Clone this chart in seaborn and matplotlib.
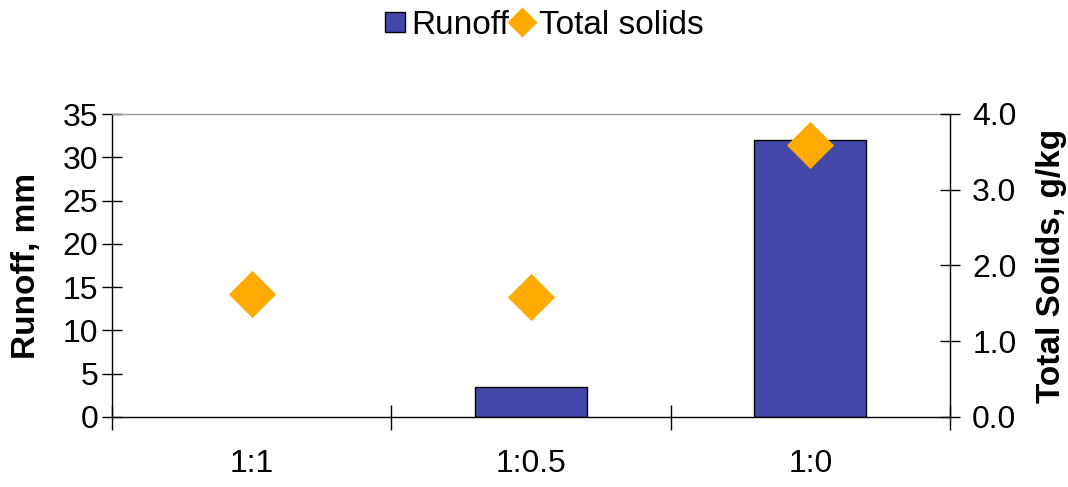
import matplotlib
matplotlib.use("Agg")
import matplotlib.pyplot as plt
import seaborn as sns
import pandas as pd
from matplotlib.lines import Line2D
from matplotlib.ticker import MultipleLocator, FixedLocator

categories = ["1:1", "1:0.5", "1:0"]
runoff_mm = [0.0, 3.5, 32.0]
total_solids = [1.63, 1.59, 3.59]

sns.set_theme(style="white")
plt.rcParams["font.family"] = ["Liberation Sans", "DejaVu Sans"]
plt.rcParams["text.color"] = "black"
plt.rcParams["axes.labelcolor"] = "black"
plt.rcParams["xtick.color"] = "black"
plt.rcParams["ytick.color"] = "black"

df = pd.DataFrame({"cat": categories, "runoff": runoff_mm, "ts": total_solids})

fig = plt.figure(figsize=(10.68, 4.87), dpi=100)
ax = fig.add_axes([112/1068, 1-417/487, (950-112)/1068, (417-114)/487])

bar_color = "#4348A8"
sns.barplot(data=df, x="cat", y="runoff", order=categories, color=bar_color,
            width=0.4, edgecolor="black", linewidth=1, saturation=1, ax=ax)
for p in ax.patches:
    if p.get_height() == 0:
        p.set_linewidth(0)
ax.set_xlim(-0.5, 2.5)
ax.set_ylim(0, 35)
ax.yaxis.set_major_locator(MultipleLocator(5))

ax2 = ax.twinx()
sns.stripplot(data=df, x="cat", y="ts", order=categories, jitter=False,
              marker="D", size=24, color="#FFAA00", linewidth=0, ax=ax2, zorder=5)
ax2.set_xlim(-0.5, 2.5)
ax2.set_ylim(0, 4.0)
ax2.yaxis.set_major_locator(MultipleLocator(1.0))
ax2.set_yticklabels([f"{v:.1f}" for v in ax2.get_yticks()])

fs = 23
lfs = 24
ax.set_xlabel("")
ax.set_ylabel("Runoff, mm", fontsize=lfs, fontweight="bold", labelpad=15)
ax2.set_xlabel("")
ax2.set_ylabel("Total Solids, g/kg", fontsize=lfs, fontweight="bold", labelpad=14)

for a in (ax, ax2):
    for s in a.spines.values():
        s.set_visible(False)
ax.spines["left"].set_visible(True)
ax.spines["left"].set_color("black")
ax.spines["bottom"].set_visible(True)
ax.spines["bottom"].set_color("black")
ax.spines["top"].set_visible(True)
ax.spines["top"].set_color("#999999")
ax2.spines["right"].set_visible(True)
ax2.spines["right"].set_color("black")
for a in (ax, ax2):
    for s in a.spines.values():
        s.set_linewidth(1.0)

ax.tick_params(axis="y", direction="inout", length=14, width=1, color="black",
               labelsize=fs, pad=3, left=True, labelcolor="black")
ax2.tick_params(axis="y", direction="inout", length=14, width=1, color="black",
                labelsize=fs, pad=9, right=True, labelcolor="black")
ax.xaxis.set_minor_locator(FixedLocator([-0.5, 0.5, 1.5, 2.5]))
ax.tick_params(axis="x", which="major", length=0, labelsize=fs, pad=23, labelcolor="black")
ax.tick_params(axis="x", which="minor", direction="inout", length=18, width=1,
               color="black", bottom=True)

handles = [
    Line2D([], [], marker="s", linestyle="none", markersize=14,
           markerfacecolor=bar_color, markeredgecolor="black", markeredgewidth=1),
    Line2D([], [], marker="D", linestyle="none", markersize=15,
           markerfacecolor="#FFAA00", markeredgecolor="none"),
]
fig.legend(handles, ["Runoff", "Total solids"], loc="center", bbox_to_anchor=(0.508, 0.948),
           ncol=2, frameon=False, fontsize=lfs, handletextpad=0.1, columnspacing=0.0,
           handlelength=0.8)

fig.savefig("out.png", dpi=100)
